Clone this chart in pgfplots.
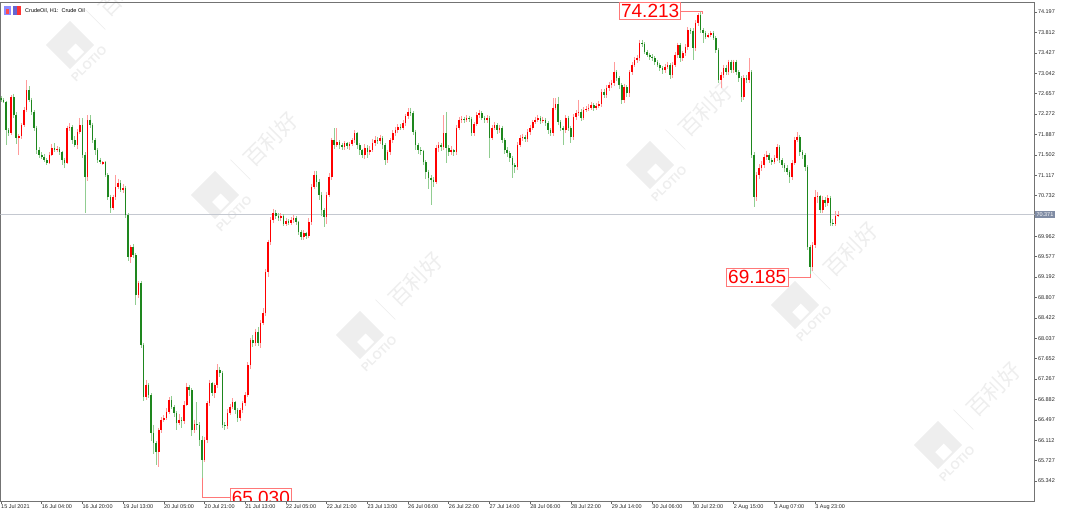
\documentclass[border=0pt]{standalone}
\usepackage{fontspec}
\setmainfont{Liberation Sans}
\newfontfamily\cjk{Noto Sans CJK SC}
\usepackage{pgfplots}
\pgfplotsset{compat=1.18}
\usepackage{pgfplotstable}

\definecolor{bodyR}{RGB}{255,0,0}
\definecolor{bodyG}{RGB}{30,135,30}
\definecolor{wickR}{RGB}{255,155,155}
\definecolor{wickG}{RGB}{145,205,145}
\definecolor{pline}{RGB}{196,200,208}
\definecolor{plabel}{RGB}{128,140,164}
\definecolor{annR}{RGB}{255,120,120}
\definecolor{wmc}{RGB}{238,238,238}

\pgfplotstableread{
o h l c
72.57 72.61 72.50 72.54
72.54 72.57 72.47 72.50
72.50 72.52 71.69 71.97
71.97 72.00 71.85 71.91
71.91 72.63 71.88 72.59
72.59 72.65 72.20 72.25
72.25 72.30 71.70 71.82
71.82 71.90 71.50 71.85
71.85 72.10 71.80 72.06
72.06 72.40 72.02 72.35
72.35 72.91 72.30 72.72
72.72 72.80 72.50 72.54
72.54 72.58 72.25 72.31
72.31 72.35 71.95 72.01
72.01 72.05 71.52 71.59
71.59 71.65 71.45 71.50
71.50 71.55 71.42 71.46
71.46 71.52 71.36 71.40
71.40 71.44 71.30 71.35
71.35 71.55 71.32 71.50
71.50 71.70 71.47 71.63
71.63 71.72 71.55 71.59
71.59 71.66 71.55 71.61
71.61 71.65 71.50 71.55
71.55 71.58 71.30 71.40
71.40 71.45 71.25 71.35
71.35 72.05 71.32 72.01
72.01 72.10 71.95 72.03
72.03 72.06 71.70 71.78
71.78 71.85 71.65 71.69
71.69 71.98 71.62 71.93
71.93 72.20 71.90 72.06
72.06 72.20 71.45 71.50
71.50 71.55 70.40 71.08
71.08 72.25 71.00 72.16
72.16 72.25 72.00 72.06
72.06 72.10 71.72 71.78
71.78 71.82 71.50 71.59
71.59 71.63 71.35 71.40
71.40 71.45 71.33 71.36
71.33 71.38 71.30 71.36
71.36 71.38 71.08 71.12
71.12 71.15 70.65 70.70
70.70 70.75 70.40 70.50
70.50 70.75 70.45 70.70
70.70 71.12 70.65 70.89
70.89 71.05 70.85 70.97
70.97 71.02 70.80 70.84
70.84 70.95 70.78 70.87
70.87 70.92 70.30 70.36
70.36 70.40 69.50 69.57
69.57 69.80 69.45 69.76
69.76 69.82 69.55 69.61
69.61 69.65 68.66 68.85
68.85 69.12 68.80 69.08
69.08 69.12 67.85 67.91
67.91 67.95 66.85 66.93
66.93 67.25 66.88 67.16
67.16 67.20 66.90 66.97
66.97 67.00 66.10 66.25
66.25 66.40 65.85 66.06
66.06 66.10 65.65 65.89
65.89 66.35 65.60 66.31
66.31 66.55 66.25 66.49
66.49 66.58 66.45 66.53
66.53 66.72 66.50 66.65
66.65 66.92 66.60 66.87
66.87 66.95 66.70 66.74
66.74 66.78 66.55 66.63
66.63 66.66 66.30 66.44
66.44 66.60 66.40 66.49
66.49 66.55 66.35 66.47
66.47 66.85 66.42 66.78
66.78 67.20 66.75 67.12
67.12 67.15 66.95 67.06
67.06 67.10 66.20 66.31
66.31 66.50 66.25 66.42
66.42 66.83 66.30 66.40
66.40 66.45 66.00 66.12
66.12 66.20 65.40 65.74
65.74 66.18 65.70 66.12
66.12 66.85 66.05 66.81
66.81 67.25 66.75 67.19
67.19 67.22 66.95 67.00
67.00 67.20 66.90 67.15
67.15 67.55 67.10 67.44
67.44 67.50 67.30 67.38
67.38 67.42 66.35 66.40
66.40 66.45 66.30 66.38
66.38 66.70 66.33 66.63
66.63 66.80 66.58 66.74
66.74 66.90 66.70 66.83
66.83 66.86 66.60 66.68
66.68 66.72 66.45 66.53
66.53 66.72 66.48 66.68
66.68 66.86 66.62 66.81
66.81 67.02 66.76 66.97
66.97 67.58 66.92 67.53
67.53 68.05 67.45 68.00
68.00 68.10 67.88 67.95
67.95 68.22 67.90 68.16
68.16 68.25 67.90 67.95
67.95 68.38 67.85 68.33
68.33 68.60 68.28 68.51
68.51 69.35 68.45 69.29
69.29 69.90 69.20 69.86
69.86 70.32 69.80 70.27
70.27 70.48 70.22 70.40
70.40 70.46 70.28 70.35
70.35 70.40 70.25 70.30
70.30 70.40 70.26 70.35
70.35 70.38 70.15 70.19
70.19 70.30 70.15 70.25
70.25 70.28 70.18 70.21
70.21 70.33 70.18 70.27
70.27 70.36 70.22 70.31
70.31 70.35 70.18 70.23
70.23 70.26 69.98 70.04
70.04 70.08 69.90 69.95
69.95 70.08 69.90 70.02
70.02 70.05 69.92 69.97
69.97 70.30 69.93 70.23
70.23 70.95 70.18 70.89
70.89 71.20 70.85 71.12
71.12 71.20 70.90 70.99
70.99 71.05 70.65 70.74
70.74 70.80 70.35 70.46
70.46 70.50 70.14 70.33
70.33 70.80 70.20 70.74
70.74 71.15 70.70 71.08
71.08 71.82 71.02 71.78
71.78 72.00 71.62 71.69
71.69 72.00 71.65 71.74
71.74 71.78 71.62 71.69
71.69 71.72 71.60 71.65
71.65 71.76 71.60 71.72
71.72 71.75 71.62 71.67
71.67 71.75 71.60 71.71
71.71 71.82 71.66 71.78
71.78 71.96 71.72 71.91
71.91 71.94 71.62 71.69
71.69 71.72 71.50 71.59
71.59 71.62 71.45 71.50
71.50 71.70 71.42 71.63
71.63 71.68 71.45 71.55
71.55 71.66 71.50 71.59
71.59 71.80 71.55 71.72
71.72 71.85 71.66 71.78
71.78 71.84 71.70 71.76
71.76 71.88 71.70 71.82
71.82 71.85 71.62 71.69
71.69 71.72 71.30 71.40
71.40 71.60 71.35 71.55
71.55 71.82 71.50 71.78
71.78 71.96 71.72 71.91
71.91 72.02 71.86 71.97
71.97 72.08 71.92 72.03
72.03 72.08 71.96 72.01
72.01 72.15 71.96 72.10
72.10 72.28 72.05 72.23
72.23 72.38 72.18 72.31
72.31 72.39 72.24 72.29
72.29 72.33 71.88 71.93
71.93 71.97 71.60 71.69
71.69 71.73 71.52 71.59
71.59 71.65 71.50 71.57
71.57 71.60 71.30 71.36
71.36 71.40 71.05 71.18
71.18 71.22 70.85 71.06
71.06 71.12 70.55 71.03
71.03 71.08 70.90 70.99
70.99 71.68 70.95 71.63
71.63 71.75 71.55 71.69
71.69 71.72 71.58 71.65
71.65 72.25 71.60 71.91
71.91 72.31 71.35 71.63
71.63 71.68 71.48 71.55
71.55 71.66 71.50 71.59
71.59 71.62 71.48 71.55
71.55 72.06 71.50 72.01
72.01 72.22 71.96 72.16
72.16 72.23 72.10 72.18
72.18 72.22 72.10 72.16
72.16 72.25 72.12 72.20
72.20 72.24 72.12 72.18
72.18 72.22 71.85 71.91
71.91 72.12 71.86 72.08
72.08 72.30 72.04 72.25
72.25 72.35 72.20 72.29
72.29 72.32 72.15 72.20
72.20 72.24 72.10 72.16
72.16 72.25 72.10 72.20
72.20 72.24 71.44 71.82
71.82 72.06 71.78 72.01
72.01 72.12 71.96 72.06
72.06 72.10 71.90 71.97
71.97 72.06 71.92 72.01
72.01 72.05 71.72 71.78
71.78 71.82 71.52 71.59
71.59 71.64 71.46 71.53
71.53 71.58 71.36 71.44
71.44 71.48 71.06 71.31
71.31 71.35 71.15 71.27
71.27 71.74 71.22 71.69
71.69 71.88 71.64 71.82
71.82 71.90 71.76 71.84
71.84 71.88 71.74 71.80
71.80 71.98 71.75 71.93
71.93 72.06 71.88 72.01
72.01 72.16 71.96 72.12
72.12 72.22 72.08 72.16
72.16 72.26 72.12 72.20
72.20 72.24 72.08 72.14
72.14 72.22 72.10 72.16
72.16 72.20 72.05 72.10
72.10 72.14 71.90 71.97
71.97 72.00 71.85 71.91
71.91 72.57 71.86 72.39
72.39 72.57 72.34 72.46
72.46 72.60 72.06 72.12
72.12 72.15 71.95 72.01
72.01 72.05 71.69 71.97
71.97 72.25 71.92 72.20
72.20 72.24 71.95 72.01
72.01 72.05 71.72 71.84
71.84 72.27 71.78 72.22
72.22 72.34 72.16 72.29
72.29 72.54 72.24 72.31
72.31 72.36 72.14 72.20
72.20 72.40 72.15 72.35
72.35 72.42 72.30 72.37
72.37 72.46 72.32 72.39
72.39 72.50 72.35 72.44
72.44 72.48 72.33 72.39
72.39 72.48 72.35 72.42
72.42 72.52 72.38 72.46
72.46 72.74 72.40 72.69
72.69 72.75 72.57 72.63
72.63 72.82 72.58 72.76
72.76 72.88 72.70 72.82
72.82 72.92 72.76 72.86
72.86 73.25 72.80 73.06
73.06 73.10 72.90 72.95
72.95 72.98 72.75 72.82
72.82 72.86 72.46 72.54
72.54 72.84 72.48 72.78
72.78 72.82 72.60 72.67
72.67 73.10 72.60 73.06
73.06 73.25 73.00 73.20
73.20 73.34 73.15 73.29
73.29 73.38 73.24 73.33
73.33 73.67 73.28 73.61
73.61 73.67 73.54 73.59
73.59 73.63 73.40 73.44
73.44 73.48 73.34 73.39
73.39 73.43 73.30 73.35
73.35 73.40 73.28 73.33
73.33 73.36 73.20 73.25
73.25 73.29 73.15 73.20
73.20 73.24 73.08 73.14
73.14 73.18 73.02 73.10
73.10 73.22 73.05 73.16
73.16 73.26 73.12 73.20
73.20 73.24 72.94 73.01
73.01 73.26 72.96 73.20
73.20 73.44 73.15 73.39
73.39 73.62 73.33 73.57
73.57 73.61 73.26 73.33
73.33 73.47 73.28 73.42
73.42 73.59 73.36 73.54
73.54 73.91 73.48 73.86
73.86 73.90 73.78 73.84
73.84 73.90 73.30 73.52
73.52 74.04 73.46 73.99
73.99 74.18 73.93 74.14
74.14 74.213 73.80 73.86
73.86 73.90 73.61 73.80
73.80 73.84 73.68 73.73
73.73 73.80 73.70 73.76
73.76 73.84 73.72 73.80
73.80 73.84 73.66 73.71
73.71 73.75 73.42 73.48
73.48 73.52 72.85 72.91
72.91 73.06 72.76 73.01
73.01 73.20 72.96 73.14
73.14 73.20 73.00 73.06
73.06 73.30 73.00 73.25
73.25 73.30 73.04 73.10
73.10 73.30 73.04 73.25
73.25 73.30 73.00 73.06
73.06 73.10 72.88 72.95
72.95 72.98 72.50 72.59
72.59 73.00 72.54 72.95
72.95 73.00 72.85 72.91
72.91 73.33 72.86 73.06
73.06 73.10 71.45 71.50
71.50 71.55 70.52 70.70
70.70 71.18 70.62 71.12
71.12 71.32 71.05 71.25
71.25 71.38 71.20 71.31
71.31 71.52 71.26 71.46
71.46 71.58 71.40 71.50
71.50 71.54 71.35 71.40
71.40 71.45 71.30 71.36
71.36 71.50 71.32 71.44
71.44 71.70 71.38 71.65
71.65 71.68 71.34 71.40
71.40 71.44 71.25 71.31
71.31 71.35 71.18 71.25
71.25 71.30 71.12 71.18
71.18 71.22 70.97 71.08
71.08 71.40 71.02 71.35
71.35 71.84 71.30 71.78
71.78 71.93 71.75 71.84
71.84 71.88 71.48 71.55
71.55 71.60 71.42 71.50
71.50 71.54 71.20 71.27
71.27 71.30 69.70 69.76
69.76 69.80 69.185 69.38
69.38 69.85 69.30 69.80
69.80 70.84 69.74 70.70
70.70 70.80 70.60 70.72
70.72 70.75 70.40 70.46
70.46 70.72 70.40 70.65
70.65 70.70 70.52 70.59
70.59 70.74 70.54 70.69
70.69 70.73 70.15 70.21
70.21 70.28 70.15 70.20
70.20 70.44 70.16 70.35
70.35 70.44 70.32 70.371
}\candles

\newcommand{\wm}[2]{%
 \begin{scope}[shift={(#1pt,{501pt-#2pt})}, rotate=45, transform shape]
  \fill[wmc] (-17pt,-17pt) rectangle (17pt,17pt);
  \fill[white] (-7pt,-15pt) rectangle (5pt,-3pt);
  \node[text=wmc, font=\bfseries\fontsize{12}{12}\selectfont, anchor=north] at (0pt,-19pt) {PLOTIO};
  \draw[wmc, line width=0.8pt] (36pt,-14pt) -- (36pt,14pt);
  \node[text=wmc, font=\cjk\fontsize{22}{22}\selectfont, anchor=west] at (42pt,0pt) {百利好};
 \end{scope}}

\pgfplotsset{candle/.style={draw=none, mark=none, forget plot,
  error bars/.cd, y dir=minus, y explicit, error mark=none,
  error bar style={draw=#1}}}

\begin{document}
\begin{tikzpicture}
\path[use as bounding box] (0pt,-18pt) rectangle (1065pt,501pt);
% watermarks
\wm{70}{45}
\wm{215}{195}
\wm{360}{335}
\wm{650}{165}
\wm{795}{305}
\wm{938}{445}
% title
\fill[blue!45!white] (4pt,486pt) rectangle (11pt,495pt);
\fill[red!70!white] (6pt,487pt) rectangle (9pt,492pt);
\fill[blue!70!black!60!white] (13pt,486pt) rectangle (17pt,495pt);
\fill[red!80!white] (17pt,486pt) rectangle (21pt,495pt);
\node[anchor=west, font=\fontsize{5.5}{6}\selectfont, inner sep=0pt] at (25pt,490.5pt) {CrudeOil, H1:\ \ Crude Oil};
\begin{axis}[
  at={(0.5pt,0pt)}, anchor=south west,
  scale only axis, width=1034pt, height=498.5pt,
  xmin=-0.2, xmax=406.25, ymin=64.964, ymax=74.377,
  axis line style={draw=black!55, line width=0.7pt},
  xtick={0,16,...,320},
  xticklabels={15 Jul 2021,16 Jul 04:00,16 Jul 20:00,19 Jul 13:00,20 Jul 05:00,20 Jul 21:00,21 Jul 13:00,22 Jul 05:00,22 Jul 21:00,23 Jul 13:00,26 Jul 06:00,26 Jul 22:00,27 Jul 14:00,28 Jul 06:00,28 Jul 22:00,29 Jul 14:00,30 Jul 06:00,30 Jul 22:00,2 Aug 15:00,3 Aug 07:00,3 Aug 23:00},
  ytick={74.197,73.812,73.427,73.042,72.657,72.272,71.887,71.502,71.117,70.732,69.962,69.577,69.192,68.807,68.422,68.037,67.652,67.267,66.882,66.497,66.112,65.727,65.342},
  yticklabels={74.197,73.812,73.427,73.042,72.657,72.272,71.887,71.502,71.117,70.732,69.962,69.577,69.192,68.807,68.422,68.037,67.652,67.267,66.882,66.497,66.112,65.727,65.342},
  xtick pos=left, xticklabel pos=left,
  ytick pos=right, yticklabel pos=right,
  tick align=outside, major tick length=2.5pt,
  tick style={black!60, line width=0.5pt},
  ticklabel style={font=\fontsize{5.5}{6}\selectfont, text=black!85},
  xticklabel style={anchor=north west, inner xsep=0.5pt, inner ysep=1pt, xshift=-0.5pt},
  yticklabel style={anchor=west, inner xsep=0.8pt},
]
\addplot[pline, line width=0.8pt, forget plot] coordinates {(-1,70.371) (410,70.371)};
% wicks
\addplot[candle={wickR, line width=0.8pt}]
  table[x expr=\coordindex, y expr={\thisrow{c}>=\thisrow{o} ? \thisrow{h} : nan},
        y error minus expr={\thisrow{h}-\thisrow{l}}] {\candles};
\addplot[candle={wickG, line width=0.8pt}]
  table[x expr=\coordindex, y expr={\thisrow{c}<\thisrow{o} ? \thisrow{h} : nan},
        y error minus expr={\thisrow{h}-\thisrow{l}}] {\candles};
% bodies
\addplot[candle={bodyR, line width=1.6pt}]
  table[x expr=\coordindex, y expr={\thisrow{c}>=\thisrow{o} ? \thisrow{c} : nan},
        y error minus expr={max(\thisrow{c}-\thisrow{o},0.012)}] {\candles};
\addplot[candle={bodyG, line width=1.6pt}]
  table[x expr=\coordindex, y expr={\thisrow{c}<\thisrow{o} ? \thisrow{o} : nan},
        y error minus expr={max(\thisrow{o}-\thisrow{c},0.012)}] {\candles};
% annotations
\draw[annR, line width=0.6pt] (axis cs:267.3,74.213) -- (axis cs:275.5,74.213) -- (axis cs:275.5,74.16);
\draw[annR, line width=0.6pt] (axis cs:309.4,69.185) -- (axis cs:318,69.185) -- (axis cs:318,69.25);
\draw[annR, line width=0.6pt] (axis cs:79,65.40) -- (axis cs:79,65.030) -- (axis cs:90,65.030);
\coordinate (a1) at (axis cs:267.3,74.213);
\coordinate (a2) at (axis cs:309.4,69.185);
\coordinate (a3) at (axis cs:90,65.030);
\coordinate (pl) at (axis cs:406.25,70.371);
\end{axis}
\begin{scope}
\clip (0.5pt,0pt) rectangle (1034.5pt,498.5pt);
\node[draw=annR, line width=0.6pt, text=red, font=\fontsize{19}{19}\selectfont, inner xsep=1.5pt, inner ysep=1.8pt, anchor=east] at (a1) {74.213};
\node[draw=annR, line width=0.6pt, text=red, font=\fontsize{19}{19}\selectfont, inner xsep=1.5pt, inner ysep=2.5pt, anchor=east] at (a2) {69.185};
\node[draw=annR, line width=0.6pt, text=red, font=\fontsize{19}{19}\selectfont, inner xsep=1.5pt, inner ysep=2.5pt, anchor=west] at (a3) {65.030};
\end{scope}
\node[fill=plabel, text=white, font=\fontsize{5.5}{6}\selectfont, inner xsep=1.5pt, inner ysep=1.5pt, anchor=west] at ([xshift=0.3pt]pl) {70.371};
\end{tikzpicture}
\end{document}
